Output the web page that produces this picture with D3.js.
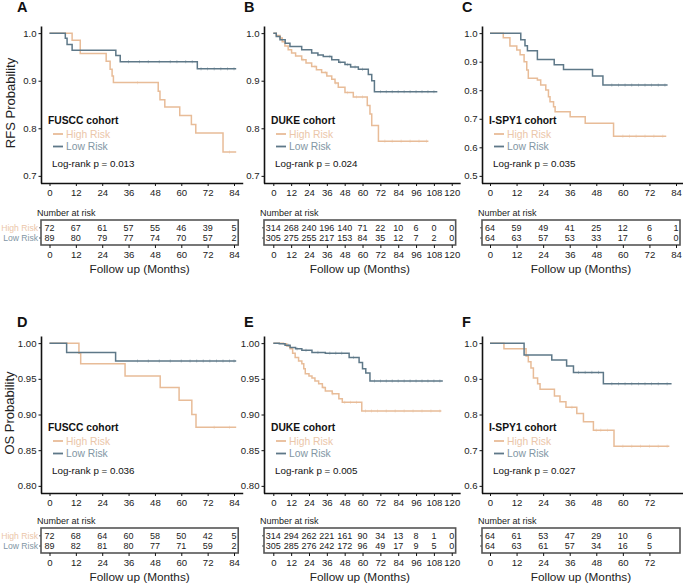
<!DOCTYPE html>
<html>
<head>
<meta charset="utf-8">
<script src="https://cdn.jsdelivr.net/npm/d3@7"></script>
<style>
  body { margin: 0; background: #fff; }
  svg text { font-family: "Liberation Sans", Arial, sans-serif; }
</style>
</head>
<body>
<svg id="chart" width="683" height="585"></svg>
<script>
// ---- tick labels ----
const months84 = [0, 12, 24, 36, 48, 60, 72, 84];
const months120 = [0, 12, 24, 36, 48, 60, 72, 84, 96, 108, 120];
const months72 = [0, 12, 24, 36, 48, 60, 72];
const yTicksFuscc = [0.7, 0.8, 0.9, 1.0];
const yTicksDuke = [0.7, 0.8, 0.9, 1.0];
const yTicksIspy = [0.5, 0.6, 0.7, 0.8, 0.9, 1.0];
const yTicksOs = [0.80, 0.85, 0.90, 0.95, 1.00];
const yTicksIspyOs = [0.6, 0.7, 0.8, 0.9, 1.0];

const groups = ["High Risk", "Low Risk"];
const cohorts = ["FUSCC cohort", "DUKE cohort", "I-SPY1 cohort", "FUSCC cohort", "DUKE cohort", "I-SPY1 cohort"];
const pValues = ["0.013", "0.024", "0.035", "0.036", "0.005", "0.027"];

// ---- survival steps: [month, survival after that month] ----
const rfsFusccHigh = [[0,1],[10.3,0.985],[14,0.957],[25.8,0.941],[27.6,0.924],[28.5,0.91],[29.1,0.896],[49.5,0.878],[50.3,0.86],[52.5,0.845],[59.3,0.827],[64.6,0.808],[66.6,0.79],[79,0.75],[85,0.75]];
const rfsFusccLow = [[0,1],[7.2,0.989],[8,0.976],[10.3,0.964],[30.2,0.953],[32.2,0.94],[67.3,0.925],[85,0.925]];
const rfsDukeHigh = [[0,1],[2,0.995],[4.5,0.99],[6,0.982],[7.8,0.973],[10,0.965],[12.3,0.958],[15,0.952],[19.1,0.944],[22,0.937],[25.8,0.93],[29,0.923],[32.5,0.917],[36,0.91],[39.3,0.903],[41.5,0.895],[43.7,0.886],[48.2,0.875],[53.8,0.866],[63.2,0.848],[65,0.83],[66.2,0.806],[70.7,0.773],[104.3,0.773]];
const rfsDukeLow = [[0,1],[2,0.993],[4.5,0.986],[8,0.979],[11.2,0.972],[19.1,0.965],[25.8,0.958],[30,0.954],[33.6,0.951],[39.3,0.944],[44,0.939],[48.2,0.934],[52,0.929],[57.2,0.924],[63.9,0.913],[66.2,0.9],[68,0.877],[110.3,0.877]];
const rfsIspyHigh = [[0,1],[6,0.984],[9,0.955],[12.1,0.941],[13.6,0.924],[15.4,0.9],[16.6,0.871],[17.3,0.842],[21.4,0.836],[22.9,0.818],[25.2,0.801],[26.4,0.777],[27.1,0.76],[28.7,0.742],[29.4,0.725],[36.2,0.707],[43,0.684],[55.8,0.639],[79.6,0.639]];
const rfsIspyLow = [[0,1],[13.9,0.977],[15.8,0.956],[16.9,0.938],[21.4,0.908],[29,0.889],[33.2,0.873],[46.3,0.85],[51,0.818],[80.2,0.818]];
const osFusccHigh = [[0,1],[13.4,0.986],[14.2,0.971],[34.4,0.954],[50.4,0.938],[59,0.92],[64.8,0.9],[66.7,0.882],[85,0.882]];
const osFusccLow = [[0,1],[7.8,0.987],[30.1,0.975],[85,0.975]];
const osDukeHigh = [[0,1],[6.8,0.999],[9,0.996],[11.3,0.992],[13,0.986],[14.7,0.98],[17,0.975],[19.2,0.971],[20.5,0.964],[21.5,0.957],[24,0.954],[26,0.951],[28,0.947],[30.5,0.943],[33,0.938],[35,0.933],[39.6,0.929],[44.1,0.922],[46.4,0.917],[59.5,0.905],[113,0.905]];
const osDukeLow = [[0,1],[4,0.999],[7.9,0.997],[11.3,0.994],[15,0.992],[19.2,0.99],[26,0.987],[35,0.986],[51,0.98],[57.7,0.973],[60,0.964],[62.2,0.958],[65,0.947],[114,0.947]];
const osIspyHigh = [[0,1],[6.3,0.984],[16.3,0.964],[17.3,0.948],[18.5,0.93],[19.6,0.902],[21.5,0.886],[22.6,0.871],[29.1,0.852],[31.6,0.836],[34.3,0.82],[39.2,0.803],[42.2,0.78],[46.7,0.756],[56,0.711],[81,0.711]];
const osIspyLow = [[0,1],[15.4,0.967],[27.9,0.953],[34.6,0.936],[37.7,0.918],[51.2,0.886],[82,0.886]];

// censor times
const cRfsFusccHigh = [40, 82];
const cRfsFusccLow = [36, 41, 45, 50, 55, 58, 62, 65, 69, 72, 75, 78, 81, 84];
const cRfsDukeHigh = [20, 28, 35, 42, 50, 56, 60, 75, 80, 86, 92, 98, 103];
const cRfsDukeLow = [30, 38, 45, 50, 55, 60, 72, 76, 80, 84, 88, 92, 96, 100, 104, 108];
const cRfsIspyHigh = [60, 63, 66, 70, 74, 78];
const cRfsIspyLow = [55, 58, 61, 64, 67, 70, 73, 76, 79];
const cOsFusccHigh = [75, 82];
const cOsFusccLow = [40, 45, 50, 55, 60, 64, 67, 70, 73, 76, 79, 82, 84];
const cOsDukeHigh = [34, 40, 48, 52, 56, 62, 66, 70, 76, 82, 88, 94, 100, 106, 112];
const cOsDukeLow = [10, 16, 22, 30, 38, 42, 46, 54, 68, 72, 76, 80, 84, 88, 92, 96, 100, 104, 108, 112];
const cOsIspyHigh = [37, 48, 50, 53, 60, 64, 68, 72, 76, 80];
const cOsIspyLow = [40, 43, 46, 49, 55, 58, 61, 64, 67, 70, 73, 76, 80];

// numbers at risk
const nRfsFusccHigh = [72, 67, 61, 57, 55, 46, 39, 5];
const nRfsFusccLow = [89, 80, 79, 77, 74, 70, 57, 2];
const nRfsDukeHigh = [314, 268, 240, 196, 140, 71, 22, 10, 6, 0, 0];
const nRfsDukeLow = [305, 275, 255, 217, 153, 84, 35, 12, 7, 2, 0];
const nRfsIspyHigh = [64, 59, 49, 41, 25, 12, 6, 1];
const nRfsIspyLow = [64, 63, 57, 53, 33, 17, 6, 0];
const nOsFusccHigh = [72, 68, 64, 60, 58, 50, 42, 5];
const nOsFusccLow = [89, 82, 81, 80, 77, 71, 59, 2];
const nOsDukeHigh = [314, 294, 262, 221, 161, 90, 34, 13, 8, 1, 0];
const nOsDukeLow = [305, 285, 276, 242, 172, 96, 49, 17, 9, 5, 0];
const nOsIspyHigh = [64, 61, 53, 47, 29, 10, 6];
const nOsIspyLow = [64, 63, 61, 57, 34, 16, 5];

// ---- styling ----
const colHigh = "#E8BC98", colLow = "#5E7888";
const txtHigh = "#EBC6A9", txtLow = "#8296A4";

const svg = d3.select("#chart");

// layout per column / row
const cols = [
  { left: 41, x0: 49.5, x84: 234 },
  { left: 264, x0: 273.3, x84: 273.3 + 84 * 1.487 },
  { left: 482, x0: 490, x84: 676 }
];
const rows = [
  { label: "RFS Probability", letterY: 12, top: 26, bottom: 183, legY: 120, boxTop: 220, ylabY: 103 },
  { label: "OS Probability", letterY: 327, top: 336, bottom: 493, legY: 427, boxTop: 528, ylabY: 413 }
];

const panels = [
  { letter: "A", r: 0, c: 0, ticks: months84, xMax: 84, yTicks: yTicksFuscc, fmt: ".1f", hi: rfsFusccHigh, lo: rfsFusccLow, chi: cRfsFusccHigh, clo: cRfsFusccLow, nhi: nRfsFusccHigh, nlo: nRfsFusccLow },
  { letter: "B", r: 0, c: 1, ticks: months120, xMax: 120, yTicks: yTicksDuke, fmt: ".1f", hi: rfsDukeHigh, lo: rfsDukeLow, chi: cRfsDukeHigh, clo: cRfsDukeLow, nhi: nRfsDukeHigh, nlo: nRfsDukeLow },
  { letter: "C", r: 0, c: 2, ticks: months84, xMax: 84, yTicks: yTicksIspy, fmt: ".1f", hi: rfsIspyHigh, lo: rfsIspyLow, chi: cRfsIspyHigh, clo: cRfsIspyLow, nhi: nRfsIspyHigh, nlo: nRfsIspyLow },
  { letter: "D", r: 1, c: 0, ticks: months84, xMax: 84, yTicks: yTicksOs, fmt: ".2f", hi: osFusccHigh, lo: osFusccLow, chi: cOsFusccHigh, clo: cOsFusccLow, nhi: nOsFusccHigh, nlo: nOsFusccLow },
  { letter: "E", r: 1, c: 1, ticks: months120, xMax: 120, yTicks: yTicksOs, fmt: ".2f", hi: osDukeHigh, lo: osDukeLow, chi: cOsDukeHigh, clo: cOsDukeLow, nhi: nOsDukeHigh, nlo: nOsDukeLow },
  { letter: "F", r: 1, c: 2, ticks: months72, xMax: 84, yTicks: yTicksIspyOs, fmt: ".1f", hi: osIspyHigh, lo: osIspyLow, chi: cOsIspyHigh, clo: cOsIspyLow, nhi: nOsIspyHigh, nlo: nOsIspyLow }
];

function survAt(steps, t) {
  let s = 1;
  for (const p of steps) { if (p[0] <= t) s = p[1]; }
  return s;
}

function styleAxis(g) {
  g.select(".domain").attr("stroke", "#111").attr("stroke-width", 1.6);
  g.selectAll(".tick line").attr("stroke", "#111").attr("stroke-width", 1);
  g.selectAll(".tick text").attr("fill", "#222").style("font-size", "9.6px");
}

panels.forEach((p, i) => {
  const col = cols[p.c], row = rows[p.r];
  const g = svg.append("g");

  // month -> px, with ggplot style 5% padding on both sides
  const pxPerMonth = (col.x84 - col.x0) / 84;
  const lo = -p.xMax * 0.05, hi = p.xMax * 1.05;
  const xs = d3.scaleLinear()
    .domain([lo, hi])
    .range([col.x0 + lo * pxPerMonth, col.x0 + hi * pxPerMonth]);

  const yMin = d3.min(p.yTicks), yMaxV = d3.max(p.yTicks);
  const pad = (yMaxV - yMin) * 0.05;
  const y = d3.scaleLinear().domain([yMin - pad, yMaxV + pad]).range([row.bottom, row.top]);

  // panel letter
  g.append("text").attr("x", col.left - 24 + (p.c === 0 ? 0 : 4)).attr("y", row.letterY)
    .attr("font-weight", "bold").style("font-size", "14.5px").attr("fill", "#111").text(p.letter);

  // axes
  g.append("g").attr("transform", `translate(${col.left},0)`)
    .call(d3.axisLeft(y).tickValues(p.yTicks).tickFormat(d3.format(p.fmt)).tickSize(2.5).tickSizeOuter(0).tickPadding(2))
    .call(styleAxis);

  g.append("g").attr("transform", `translate(0,${row.bottom})`)
    .call(d3.axisBottom(xs).tickValues(p.ticks).tickSize(3).tickSizeOuter(0).tickPadding(3))
    .call(styleAxis)
    .call(a => a.select(".domain").attr("d", `M${col.left},0.5H${xs.range()[1]}`));

  if (p.c === 0) {
    g.append("text").attr("transform", `translate(${p.r === 0 ? 15 : 14},${row.ylabY}) rotate(-90)`)
      .attr("text-anchor", "middle").style("font-size", "13px").attr("fill", "#222").text(row.label);
  }

  // curves with censor ticks
  const line = d3.line().curve(d3.curveStepAfter).x(d => xs(d[0])).y(d => y(d[1]));
  [[p.hi, p.chi, colHigh], [p.lo, p.clo, colLow]].forEach(([steps, cens, colr]) => {
    g.append("path").datum(steps).attr("d", line).attr("fill", "none")
      .attr("stroke", colr).attr("stroke-width", 1.5);
    g.selectAll(null).data(cens).join("line")
      .attr("x1", d => xs(d)).attr("x2", d => xs(d))
      .attr("y1", d => y(survAt(steps, d)) - 1.6).attr("y2", d => y(survAt(steps, d)) + 1.6)
      .attr("stroke", colr).attr("stroke-width", 0.7).attr("opacity", 0.55);
  });

  // legend
  const lx = col.left;
  g.append("text").attr("x", lx + 7).attr("y", row.legY + 3.5).attr("font-weight", "bold")
    .style("font-size", "10.3px").attr("fill", "#111").text(cohorts[i]);
  [[groups[0], colHigh, txtHigh, 14], [groups[1], colLow, txtLow, 26.5]].forEach(([lab, c, tc, dy]) => {
    g.append("line").attr("x1", lx + 12).attr("x2", lx + 22)
      .attr("y1", row.legY + dy).attr("y2", row.legY + dy).attr("stroke", c).attr("stroke-width", 1.8);
    g.append("text").attr("x", lx + 25).attr("y", row.legY + dy + 3.6)
      .style("font-size", "10.3px").attr("fill", tc).text(lab);
  });
  g.append("text").attr("x", lx + 11).attr("y", row.legY + 47)
    .style("font-size", "9.8px").attr("fill", "#111").text("Log-rank p = " + pValues[i]);

  // risk table
  const bt = row.boxTop, bh = 25;
  const boxRight = Math.min(xs.range()[1] - 5, 680);
  g.append("text").attr("x", col.left - 4).attr("y", bt - 4).style("font-size", "9px")
    .attr("fill", "#222").text("Number at risk");
  g.append("rect").attr("x", col.left).attr("y", bt).attr("width", boxRight - col.left).attr("height", bh)
    .attr("fill", "none").attr("stroke", "#555").attr("stroke-width", 1.6);

  const rowYs = [bt + 7.8, bt + 18];
  [[p.nhi, txtHigh], [p.nlo, txtLow]].forEach(([vals, tc], k) => {
    g.selectAll(null).data(vals).join("text")
      .attr("x", (d, j) => xs(p.ticks[j])).attr("y", rowYs[k] + 3.2)
      .attr("text-anchor", "middle").style("font-size", "9px").attr("fill", "#222").text(d => d);
    g.append("line").attr("x1", col.left - 2).attr("x2", col.left)
      .attr("y1", rowYs[k]).attr("y2", rowYs[k]).attr("stroke", "#555").attr("stroke-width", 1);
    if (p.c === 0) {
      g.append("text").attr("x", col.left - 3).attr("y", rowYs[k] + 3.2).attr("text-anchor", "end")
        .style("font-size", "8.6px").attr("fill", tc).text(groups[k]);
    }
  });

  g.append("g").attr("transform", `translate(0,${bt + bh})`)
    .call(d3.axisBottom(xs).tickValues(p.ticks).tickSize(3).tickSizeOuter(0).tickPadding(3))
    .call(styleAxis)
    .call(a => a.select(".domain").remove());

  g.append("text").attr("x", (col.left + boxRight) / 2).attr("y", bt + bh + 28)
    .attr("text-anchor", "middle").style("font-size", "11.8px").attr("fill", "#222").text("Follow up (Months)");
});
</script>
</body>
</html>
